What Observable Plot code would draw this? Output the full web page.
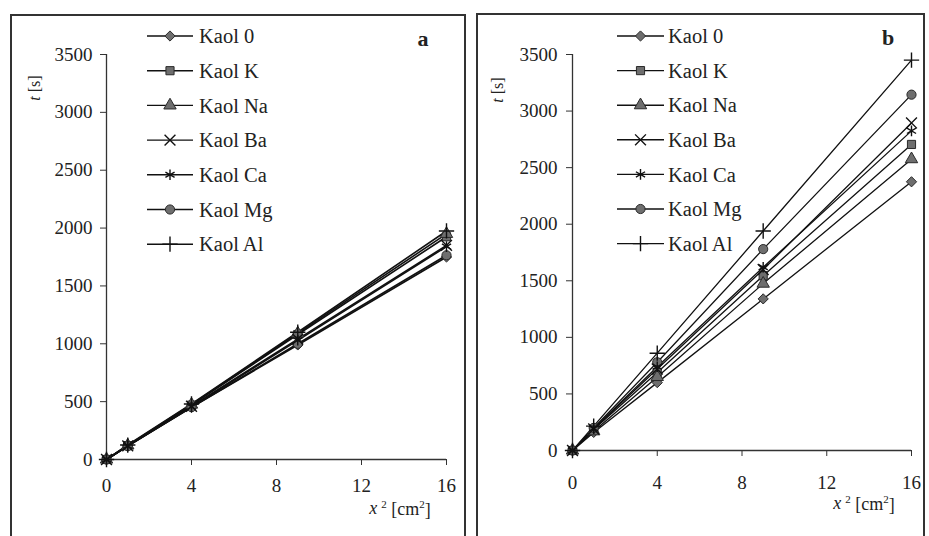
<!DOCTYPE html>
<html>
<head>
<meta charset="utf-8">
<script src="https://cdn.jsdelivr.net/npm/d3@7"></script>
<script src="https://cdn.jsdelivr.net/npm/@observablehq/plot@0.6"></script>
<style>
  html, body { margin: 0; padding: 0; background: #fff; }
  body { width: 929px; height: 536px; overflow: hidden; position: relative; font-family: "Liberation Serif", "Times New Roman", serif; }
  .panel { position: absolute; border: 2px solid #333; background: #fff; height: 540px; overflow: hidden; }
  #pa { left: 10px; top: 14px; width: 452px; }
  #pb { left: 476px; top: 13px; width: 445px; }
  .panel svg { display: block; }
</style>
</head>
<body>
<div id="pa" class="panel"></div>
<div id="pb" class="panel"></div>
<script>
// ---- data ----
const xValues = [0, 1, 4, 9, 16];                       // x^2 [cm^2]
const seriesNames = ["Kaol 0", "Kaol K", "Kaol Na", "Kaol Ba", "Kaol Ca", "Kaol Mg", "Kaol Al"];
const seriesSymbols = ["diamond2", "square", "triangle", "times", "asterisk", "circle", "plus"];
const filledSeries = ["Kaol 0", "Kaol K", "Kaol Na", "Kaol Mg"];
const xTicks = [0, 4, 8, 12, 16];
const yTicks = [0, 500, 1000, 1500, 2000, 2500, 3000, 3500];

// panel a: t [s]
const a_Kaol0  = [0, 118, 450,  990, 1750];
const a_KaolK  = [0, 120, 470, 1080, 1925];
const a_KaolNa = [0, 122, 475, 1090, 1950];
const a_KaolBa = [0, 118, 460, 1040, 1850];
const a_KaolCa = [0, 117, 455, 1030, 1840];
const a_KaolMg = [0, 115, 452, 1000, 1765];
const a_KaolAl = [0, 125, 480, 1100, 1975];

// panel b: t [s]
const b_Kaol0  = [0, 160, 600, 1340, 2375];
const b_KaolK  = [0, 185, 690, 1545, 2705];
const b_KaolNa = [0, 170, 650, 1475, 2575];
const b_KaolBa = [0, 190, 720, 1600, 2895];
const b_KaolCa = [0, 195, 740, 1620, 2825];
const b_KaolMg = [0, 200, 780, 1780, 3145];
const b_KaolAl = [0, 215, 860, 1940, 3450];

const panelA = [a_Kaol0, a_KaolK, a_KaolNa, a_KaolBa, a_KaolCa, a_KaolMg, a_KaolAl];
const panelB = [b_Kaol0, b_KaolK, b_KaolNa, b_KaolBa, b_KaolCa, b_KaolMg, b_KaolAl];

function toRows(values) {
  const rows = [];
  values.forEach((arr, i) => arr.forEach((v, j) => rows.push({series: seriesNames[i], x: xValues[j], t: v})));
  return rows;
}

const FONT = '"Liberation Serif", "Times New Roman", serif';

function makePanel(el, values, opt) {
  const data = toRows(values);
  const filled = data.filter(d => filledSeries.includes(d.series));
  const stroked = data.filter(d => !filledSeries.includes(d.series));
  const chart = Plot.plot({
    width: opt.width, height: 540,
    marginLeft: opt.ml, marginRight: opt.mr, marginTop: opt.mt, marginBottom: opt.mb,
    style: {fontFamily: FONT, fontSize: "19px", color: "#222", background: "#fff", overflow: "visible"},
    x: {domain: [0, 16]},
    y: {domain: [0, 3500]},
    symbol: {domain: seriesNames, range: seriesSymbols},
    marks: [
      Plot.axisX({ticks: xTicks, tickSize: 6, tickPadding: opt.xpad, tickFormat: d3.format("d"), label: null, stroke: "#333"}),
      Plot.axisY({ticks: yTicks, tickSize: 6, tickPadding: opt.ypad, tickFormat: d3.format("d"), label: null, stroke: "#333"}),
      Plot.ruleX([0], {stroke: "#333", strokeWidth: 1.3}),
      Plot.ruleY([0], {stroke: "#333", strokeWidth: 1.3}),
      Plot.line(data, {x: "x", y: "t", z: "series", stroke: "#111", strokeWidth: opt.lw}),
      Plot.dot(filled, {x: "x", y: "t", symbol: "series", r: 4.6, fill: "#6e6e6e", stroke: "#2a2a2a", strokeWidth: 1}),
      Plot.dot(stroked, {x: "x", y: "t", symbol: "series", r: 5, fill: "none", stroke: "#111", strokeWidth: 1.4})
    ]
  });
  el.appendChild(chart);
  const svg = d3.select(chart);

  // legend
  const lg = svg.append("g").attr("text-anchor", "start");
  const symMap = {diamond2: d3.symbolDiamond2, square: d3.symbolSquare, triangle: d3.symbolTriangle,
    times: d3.symbolTimes, asterisk: d3.symbolAsterisk, circle: d3.symbolCircle, plus: d3.symbolPlus};
  seriesNames.forEach((name, i) => {
    const y = opt.ly0 + i * opt.ldy;
    lg.append("line").attr("x1", opt.lx1).attr("x2", opt.lx2).attr("y1", y).attr("y2", y)
      .attr("stroke", "#111").attr("stroke-width", 1.4);
    const isFilled = filledSeries.includes(name);
    lg.append("path")
      .attr("d", d3.symbol(symMap[seriesSymbols[i]], Math.PI * (isFilled ? 4.6 : 5) ** 2)())
      .attr("transform", `translate(${(opt.lx1 + opt.lx2) / 2},${y})`)
      .attr("fill", isFilled ? "#6e6e6e" : "none")
      .attr("stroke", isFilled ? "#2a2a2a" : "#111")
      .attr("stroke-width", isFilled ? 1 : 1.4);
    lg.append("text").attr("x", opt.tx).attr("y", y).attr("dy", "0.35em").attr("text-anchor", "start")
      .attr("font-family", FONT).attr("font-size", 20.5).attr("fill", "#222").text(name);
  });

  // panel letter
  svg.append("text").attr("x", opt.letter[0]).attr("y", opt.letter[1]).attr("dy", "0.35em")
    .attr("text-anchor", "middle").attr("font-family", FONT).attr("font-weight", "bold")
    .attr("font-size", 22).attr("fill", "#222").text(opt.letterText);

  // y label "t [s]"
  const yl = svg.append("text").attr("transform", `translate(${opt.yl[0]},${opt.yl[1]}) rotate(-90)`)
    .attr("text-anchor", "middle").attr("dy", "0.35em")
    .attr("font-family", FONT).attr("font-size", 16).attr("fill", "#222");
  yl.append("tspan").attr("font-style", "italic").text("t");
  yl.append("tspan").text(" [s]");

  // x label "x² [cm²]"
  const xl = svg.append("text").attr("x", opt.xl[0]).attr("y", opt.xl[1]).attr("dy", "0.35em")
    .attr("text-anchor", "middle").attr("font-family", FONT).attr("font-size", 18).attr("fill", "#222");
  xl.append("tspan").attr("font-style", "italic").text("x");
  xl.append("tspan").attr("font-size", 11).attr("dy", "-0.6em").attr("dx", "4").text("2");
  xl.append("tspan").attr("dy", "0.4em").text(" [cm");
  xl.append("tspan").attr("font-size", 11).attr("dy", "-0.6em").text("2");
  xl.append("tspan").attr("dy", "0.4em").text("]");
}

makePanel(document.getElementById("pa"), panelA, {
  width: 452, ml: 94, mr: 18, mt: 38, mb: 97, xpad: 13, ypad: 8, lw: 1.6,
  lx1: 135, lx2: 181, tx: 187, ly0: 20, ldy: 34.7,
  letter: [411, 22], letterText: "a", yl: [22, 72], xl: [388, 492]
});
makePanel(document.getElementById("pb"), panelB, {
  width: 445, ml: 94, mr: 12, mt: 39, mb: 105, xpad: 19, ypad: 9, lw: 1.3,
  lx1: 139, lx2: 186, tx: 190, ly0: 21, ldy: 34.6,
  letter: [410, 22], letterText: "b", yl: [19, 75], xl: [386, 488]
});
</script>
</body>
</html>
